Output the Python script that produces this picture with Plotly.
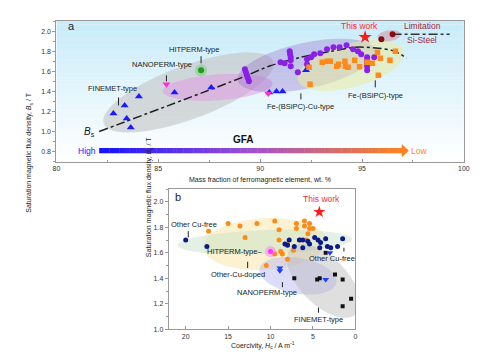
import numpy as np
import plotly.graph_objects as go

# ---------------- Panel a data ----------------
fin_a_x = [82.8, 83.35, 83.45, 83.65, 84.05, 85.8, 87.6, 90.45, 90.8, 91.1, 92.25]
fin_a_y = [1.18, 1.26, 1.13, 1.04, 1.35, 1.39, 1.44, 1.39, 1.40, 1.40, 1.61]
nano_a_x = [85.4, 90.4]
nano_a_y = [1.47, 1.38]
hit_a_x = [87.1]
hit_a_y = [1.61]
cu_a_x = [89.25, 89.3, 89.35, 89.4, 89.45, 91.0, 91.2, 91.45, 91.47, 91.5, 91.5, 91.5,
          91.85, 92.3, 92.3, 92.5, 92.65, 92.95, 93.28, 93.6, 93.9, 94.24, 94.56, 94.8,
          94.96, 95.25, 95.25, 95.25, 95.25, 95.25, 95.6]
cu_a_y = [1.62, 1.59, 1.56, 1.53, 1.50, 1.69, 1.68, 1.80, 1.77, 1.74, 1.71, 1.65,
          1.59, 1.72, 1.67, 1.74, 1.77, 1.78, 1.82, 1.84, 1.84, 1.86, 1.82, 1.80,
          1.77, 1.74, 1.71, 1.68, 1.65, 1.61, 1.74]
fe_a_x = [92.4, 92.45, 93.05, 93.3, 93.44, 93.76, 93.85, 94.16, 94.19, 94.32, 94.64,
          94.88, 95.25, 95.5, 95.76, 95.9, 95.8, 96.37, 96.64]
fe_a_y = [1.64, 1.47, 1.69, 1.70, 1.70, 1.65, 1.67, 1.70, 1.65, 1.64, 1.71,
          1.645, 1.69, 1.68, 1.79, 1.73, 1.56, 1.71, 1.80]
si_a_x = [95.95, 96.5]
si_a_y = [1.92, 1.97]
this_a_x = [95.15]
this_a_y = [1.94]
bs_line_x = [82.1, 89.0, 90.5, 92.0, 93.5, 94.7, 95.8, 96.6, 97.2]
bs_line_y = [1.00, 1.53, 1.655, 1.74, 1.80, 1.84, 1.83, 1.80, 1.73]
lim_x = [96.5, 99.3]
lim_y = [1.97, 1.97]

# ---------------- Panel b data ----------------
cud_b_x = [17.3, 15.0, 13.6, 13.0, 11.6, 10.5, 9.5, 9.0, 9.0, 8.8, 9.5, 8.6, 8.0, 8.0,
           6.95, 6.95, 7.3, 6.0, 6.0, 5.4, 5.4, 5.0, 5.6, 5.8, 6.5]
cud_b_y = [1.77, 1.83, 1.81, 1.72, 1.83, 1.50, 1.85, 1.78, 1.70, 1.61, 1.59, 1.59, 1.67, 1.55,
           1.83, 1.79, 1.62, 1.85, 1.81, 1.83, 1.79, 1.79, 1.75, 1.70, 1.70]
cuf_b_x = [20.0, 17.5, 8.3, 8.0, 7.8, 7.2, 6.6, 6.2, 6.2, 5.6, 5.4, 4.8, 4.4, 4.1, 4.2,
           3.5, 3.3, 2.9, 2.1, 1.5]
cuf_b_y = [1.70, 1.65, 1.67, 1.66, 1.70, 1.65, 1.70, 1.70, 1.64, 1.69, 1.67, 1.72, 1.70, 1.68, 1.64,
           1.71, 1.65, 1.64, 1.65, 1.71]
fin_b_x = [7.2, 4.5, 4.2, 2.4, 1.5, 0.5, 1.5, 3.5]
fin_b_y = [1.40, 1.39, 1.40, 1.43, 1.39, 1.24, 1.18, 1.60]
nano_b_x = [8.9, 8.9, 3.5, 3.0]
nano_b_y = [1.48, 1.46, 1.39, 1.60]
hit_b_x = [10.0]
hit_b_y = [1.61]
this_b_x = [4.25]
this_b_y = [1.92]

FONT = "Liberation Sans, Arial, sans-serif"

fig = go.Figure()

# scales (px per data unit) for ellipse construction
XS_A, YS_A = 20.8, 101.3
XS_B, YS_B = -8.66, 128.5


def ellipse_path(cx, cy, a, b, ang, xs, ys, n=72):
    t = np.linspace(0, 2 * np.pi, n)
    th = np.radians(ang)
    u = a * np.cos(t) * np.cos(th) - b * np.sin(t) * np.sin(th)
    v = a * np.cos(t) * np.sin(th) + b * np.sin(t) * np.cos(th)
    x = cx + u / xs
    y = cy + v / ys
    return "M " + " L ".join(f"{xx:.4f},{yy:.4f}" for xx, yy in zip(x, y)) + " Z"


shapes = []
# background gradient panel a
nstrip = 40
y0, y1 = 0.7, 2.1
top_c = np.array([200, 236, 250])
bot_c = np.array([255, 255, 255])
for i in range(nstrip):
    f = i / (nstrip - 1)
    c = bot_c + (top_c - bot_c) * f
    ya = y0 + (y1 - y0) * i / nstrip
    yb = y0 + (y1 - y0) * (i + 1) / nstrip
    shapes.append(dict(type="rect", xref="x", yref="y", x0=80, x1=100, y0=ya, y1=yb + 0.002,
                       fillcolor=f"rgb({int(c[0])},{int(c[1])},{int(c[2])})", line=dict(width=0),
                       layer="below"))

# ellipses panel a
ell_a = [
    (86.48, 1.39, 92, 27, 20, "rgba(195,195,195,0.6)"),
    (87.92, 1.44, 56, 13, 4, "rgba(225,150,225,0.5)"),
    (92.29, 1.658, 72, 23, 12, "rgba(150,110,200,0.35)"),
    (94.45, 1.658, 56, 22, 15, "rgba(235,235,160,0.55)"),
    (96.33, 1.954, 12, 5.5, 8, "rgba(205,130,150,0.45)"),
]
for cx, cy, a, b, ang, col in ell_a:
    shapes.append(dict(type="path", xref="x", yref="y", path=ellipse_path(cx, cy, a, b, ang, XS_A, YS_A),
                       fillcolor=col, line=dict(width=0), layer="below"))

# ellipses panel b
ell_b = [
    (10.68, 1.669, 63, 26, 3, "rgba(250,235,185,0.65)"),
    (10.68, 1.684, 89, 12, 2, "rgba(200,225,200,0.5)"),
    (6.76, 1.42, 40, 18, -10, "rgba(170,170,240,0.4)"),
    (3.75, 1.38, 47, 24, -45, "rgba(185,185,185,0.45)"),
]
for cx, cy, a, b, ang, col in ell_b:
    shapes.append(dict(type="path", xref="x2", yref="y2", path=ellipse_path(cx, cy, a, b, ang, XS_B, YS_B),
                       fillcolor=col, line=dict(width=0), layer="below"))

# GFA gradient arrow
stops = [(0.0, np.array([20, 20, 255])), (0.5, np.array([160, 80, 210])), (1.0, np.array([255, 130, 30]))]


def grad(f):
    for (f0, c0), (f1, c1) in zip(stops[:-1], stops[1:]):
        if f0 <= f <= f1:
            g = (f - f0) / (f1 - f0)
            return c0 + (c1 - c0) * g
    return stops[-1][1]


bx0, bx1, by, bh = 82.1, 96.95, 0.81, 0.026
nseg = 90
for i in range(nseg):
    xa = bx0 + (bx1 - bx0) * i / nseg
    xb = bx0 + (bx1 - bx0) * (i + 1) / nseg
    c = grad(i / (nseg - 1))
    shapes.append(dict(type="rect", xref="x", yref="y", x0=xa, x1=xb + 0.02, y0=by - bh, y1=by + bh,
                       fillcolor=f"rgb({int(c[0])},{int(c[1])},{int(c[2])})", line=dict(width=0)))
shapes.append(dict(type="path", xref="x", yref="y",
                   path=f"M {bx1},{by-0.065} L 97.3,{by} L {bx1},{by+0.065} Z",
                   fillcolor="rgb(255,130,30)", line=dict(width=0)))

# label tick marks
def vline(x, ya, yb, xr, yr):
    shapes.append(dict(type="line", xref=xr, yref=yr, x0=x, x1=x, y0=ya, y1=yb,
                       line=dict(color="#222", width=1)))

vline(83.05, 1.26, 1.34, "x", "y")
vline(85.4, 1.50, 1.56, "x", "y")
vline(87.1, 1.68, 1.75, "x", "y")
vline(92.0, 1.32, 1.38, "x", "y")
vline(95.65, 1.44, 1.51, "x", "y")
vline(19.7, 1.72, 1.77, "x2", "y2")
vline(12.7, 1.48, 1.53, "x2", "y2")
vline(8.6, 1.33, 1.37, "x2", "y2")
vline(1.35, 1.61, 1.64, "x2", "y2")
vline(4.35, 1.13, 1.17, "x2", "y2")

# ---------------- traces panel a ----------------
fig.add_trace(go.Scatter(x=bs_line_x, y=bs_line_y, mode="lines",
                         line=dict(color="#222", width=1.5, dash="dashdot", shape="spline", smoothing=0.8),
                         xaxis="x", yaxis="y", showlegend=False))
fig.add_trace(go.Scatter(x=lim_x, y=lim_y, mode="lines", line=dict(color="#333", width=1.5, dash="dashdot"),
                         xaxis="x", yaxis="y", showlegend=False))
fig.add_trace(go.Scatter(x=fin_a_x, y=fin_a_y, mode="markers", marker=dict(symbol="triangle-up", size=7, color="#1a1aff"),
                         xaxis="x", yaxis="y", showlegend=False))
fig.add_trace(go.Scatter(x=nano_a_x, y=nano_a_y, mode="markers", marker=dict(symbol="triangle-down", size=7, color="#ff2bd6"),
                         xaxis="x", yaxis="y", showlegend=False))
fig.add_trace(go.Scatter(x=hit_a_x, y=hit_a_y, mode="markers", marker=dict(symbol="circle", size=12, color="rgba(80,200,80,0.35)"),
                         xaxis="x", yaxis="y", showlegend=False))
fig.add_trace(go.Scatter(x=hit_a_x, y=hit_a_y, mode="markers", marker=dict(symbol="circle", size=6, color="#1f9a1f"),
                         xaxis="x", yaxis="y", showlegend=False))
fig.add_trace(go.Scatter(x=cu_a_x, y=cu_a_y, mode="markers", marker=dict(symbol="circle", size=6, color="#8a1fe8"),
                         xaxis="x", yaxis="y", showlegend=False))
fig.add_trace(go.Scatter(x=fe_a_x, y=fe_a_y, mode="markers", marker=dict(symbol="square", size=5.5, color="#ff8a1a"),
                         xaxis="x", yaxis="y", showlegend=False))
fig.add_trace(go.Scatter(x=si_a_x, y=si_a_y, mode="markers", marker=dict(symbol="circle", size=6, color="#8b0a14"),
                         xaxis="x", yaxis="y", showlegend=False))
fig.add_trace(go.Scatter(x=this_a_x, y=this_a_y, mode="markers", marker=dict(symbol="star", size=10, color="#ff1a1a"),
                         xaxis="x", yaxis="y", showlegend=False))

# ---------------- traces panel b ----------------
fig.add_trace(go.Scatter(x=cud_b_x, y=cud_b_y, mode="markers", marker=dict(symbol="circle", size=5, color="#ff8a1a"),
                         xaxis="x2", yaxis="y2", showlegend=False))
fig.add_trace(go.Scatter(x=cuf_b_x, y=cuf_b_y, mode="markers", marker=dict(symbol="circle", size=5, color="#0a1a8a"),
                         xaxis="x2", yaxis="y2", showlegend=False))
fig.add_trace(go.Scatter(x=fin_b_x, y=fin_b_y, mode="markers", marker=dict(symbol="square", size=4, color="#111"),
                         xaxis="x2", yaxis="y2", showlegend=False))
fig.add_trace(go.Scatter(x=nano_b_x, y=nano_b_y, mode="markers", marker=dict(symbol="triangle-down", size=6, color="#1a3cff"),
                         xaxis="x2", yaxis="y2", showlegend=False))
fig.add_trace(go.Scatter(x=hit_b_x, y=hit_b_y, mode="markers", marker=dict(symbol="circle", size=11, color="rgba(255,80,255,0.35)"),
                         xaxis="x2", yaxis="y2", showlegend=False))
fig.add_trace(go.Scatter(x=hit_b_x, y=hit_b_y, mode="markers", marker=dict(symbol="circle", size=5, color="#ff33ff"),
                         xaxis="x2", yaxis="y2", showlegend=False))
fig.add_trace(go.Scatter(x=this_b_x, y=this_b_y, mode="markers", marker=dict(symbol="star", size=9, color="#ff1a1a"),
                         xaxis="x2", yaxis="y2", showlegend=False))

# ---------------- annotations ----------------
ann = []


def txt(x, y, s, xr="x", yr="y", size=7.5, color="#222", **kw):
    ann.append(dict(x=x, y=y, xref=xr, yref=yr, text=s, showarrow=False,
                    font=dict(family=FONT, size=size, color=color), **kw))

txt(82.76, 1.43, "FINEMET-type")
txt(85.17, 1.67, "NANOPERM-type")
txt(86.75, 1.82, "HITPERM-type")
txt(92.0, 1.245, "Fe-(BSiPC)-Cu-type")
txt(95.65, 1.36, "Fe-(BSiPC)-type")
txt(94.88, 2.05, "This work", size=8.5, color="#ff2a2a")
txt(97.96, 2.05, "Limitation", size=8.5, color="#a0283c")
txt(97.96, 1.91, "Si-Steel", size=8.5, color="#a0283c")
txt(81.62, 1.0, "<i>B</i><sub>s</sub>", size=10, color="#111")
txt(89.2, 0.92, "<b>GFA</b>", size=10, color="#111")
txt(81.5, 0.81, "High", size=8.5, color="#1a1aff")
txt(97.8, 0.81, "Low", size=8.5, color="#ff8a2a")
txt(80.45, 2.05, "a", size=11, color="#222", xanchor="left")

txt(19.0, 1.82, "Other Cu-free", "x2", "y2")
txt(14.3, 1.61, "HITPERM-type\u2013", "x2", "y2")
txt(13.8, 1.43, "Other-Cu-doped", "x2", "y2")
txt(10.4, 1.29, "NANOPERM-type", "x2", "y2")
txt(2.78, 1.555, "Other Cu-free", "x2", "y2")
txt(4.3, 1.08, "FINEMET-type", "x2", "y2")
txt(4.05, 2.02, "This work", "x2", "y2", size=8.5, color="#ff2a2a")
txt(21.5, 2.04, "b", "x2", "y2", size=11, color="#222", xanchor="left")

# axis titles as annotations
ann.append(dict(x=0.024, y=0.765, xref="paper", yref="paper", textangle=-90, showarrow=False,
                text="Saturation magnetic flux density, <i>B</i><sub>s</sub> / T",
                font=dict(family=FONT, size=7, color="#222")))
ann.append(dict(x=0.516, y=1 - 173.5 / 357, xref="paper", yref="paper", showarrow=False,
                text="Mass fraction of ferromagnetic element, wt. %",
                font=dict(family=FONT, size=7, color="#222")))
ann.append(dict(x=256 / 491, y=1 - 347 / 357, xref="paper", yref="paper", showarrow=False,
                text="Coercivity, <i>H</i><sub>c</sub> / A m<sup>-1</sup>",
                font=dict(family=FONT, size=7, color="#222")))
ann.append(dict(x=134 / 491, y=1 - 253 / 357, xref="paper", yref="paper", textangle=-90, showarrow=False,
                text="Saturation magnetic flux density, <i>B</i><sub>s</sub> / T",
                font=dict(family=FONT, size=7, color="#222")))

axis_common = dict(showgrid=False, zeroline=False, showline=True, linecolor="#999", linewidth=1, mirror=True,
                   tickfont=dict(family=FONT, size=7, color="#333"), ticklen=3, tickcolor="#999")

fig.update_layout(
    width=491, height=357,
    margin=dict(l=0, r=0, t=0, b=0),
    paper_bgcolor="white", plot_bgcolor="white",
    shapes=shapes, annotations=ann,
    xaxis=dict(domain=[45.3 / 491, 461.3 / 491], range=[80, 100], dtick=5, ticks="inside",
               minor=dict(dtick=2.5, ticks="inside", ticklen=2, tickcolor="#999"),
               anchor="y", **axis_common),
    yaxis=dict(domain=[1 - 155 / 357, 1 - 13.2 / 357], range=[0.7, 2.1], tickvals=[0.8, 1.0, 1.2, 1.4, 1.6, 1.8, 2.0],
               ticktext=["0.8", "1.0", "1.2", "1.4", "1.6", "1.8", "2.0"], ticks="outside",
               minor=dict(dtick=0.1, ticks="outside", ticklen=2, tickcolor="#999"),
               anchor="x", **axis_common),
    xaxis2=dict(domain=[160 / 491, 350.5 / 491], range=[22, 0], tickvals=[20, 15, 10, 5, 0], ticks="inside",
                anchor="y2", **axis_common),
    yaxis2=dict(domain=[1 - 324 / 357, 1 - 182.6 / 357], range=[1.0, 2.1],
                tickvals=[1.0, 1.2, 1.4, 1.6, 1.8, 2.0], ticktext=["1.0", "1.2", "1.4", "1.6", "1.8", "2.0"],
                ticks="outside", minor=dict(dtick=0.1, ticks="outside", ticklen=2, tickcolor="#999"),
                anchor="x2", **axis_common),
)

fig.write_html("out.html")
